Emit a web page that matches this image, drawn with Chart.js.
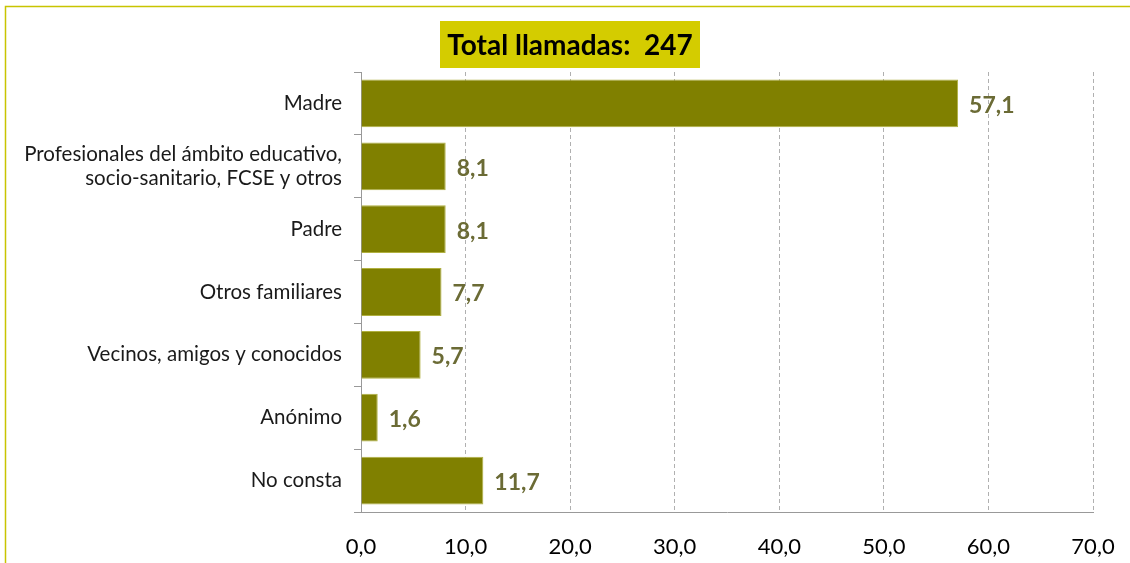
<!DOCTYPE html>
<html>
<head>
<meta charset="utf-8">
<script src="https://cdn.jsdelivr.net/npm/chart.js@4"></script>
<style>
  html, body { margin: 0; padding: 0; background: #fff; }
  #wrap { position: relative; width: 1130px; height: 563px; }
</style>
</head>
<body>
<div id="wrap"><canvas id="chart" width="1130" height="563"></canvas></div>
<script>
const categories = [
    'Madre',
    ['Profesionales del ámbito educativo,', 'socio-sanitario, FCSE y otros'],
    'Padre',
    'Otros familiares',
    'Vecinos, amigos y conocidos',
    'Anónimo',
    'No consta'
];
const percentages = [57.1, 8.1, 8.1, 7.7, 5.7, 1.6, 11.7];
const titleText = 'Total llamadas:  247';

// marco exterior y cuadro del título
const framePlugin = {
    id: 'frame',
    beforeDraw(chart) {
        const c = chart.ctx;
        c.save();
        c.strokeStyle = '#c8c400';
        c.lineWidth = 1.5;
        c.beginPath();
        c.moveTo(5.5, 563);
        c.lineTo(5.5, 6.5);
        c.lineTo(1130, 6.5);
        c.stroke();
        c.restore();
    },
    afterDraw(chart) {
        const c = chart.ctx;
        c.save();
        c.fillStyle = '#d4cc00';
        c.fillRect(440, 21, 260, 47);
        c.fillStyle = '#000';
        c.font = 'bold 28px Lato, sans-serif';
        c.textAlign = 'center';
        c.textBaseline = 'middle';
        c.fillText(titleText, 570, 46);
        c.restore();
    }
};

// etiquetas de valor junto a cada barra
const valueLabels = {
    id: 'valueLabels',
    afterDatasetsDraw(chart) {
        const c = chart.ctx;
        const meta = chart.getDatasetMeta(0);
        c.save();
        c.fillStyle = '#6b6b35';
        c.font = 'bold 23px Lato, sans-serif';
        c.textBaseline = 'middle';
        meta.data.forEach((bar, i) => {
            c.fillText(percentages[i].toFixed(1).replace('.', ','), bar.x + 11, bar.y + 2);
        });
        c.restore();
    }
};

const ctx = document.getElementById('chart').getContext('2d');
new Chart(ctx, {
    type: 'bar',
    data: {
        labels: categories,
        datasets: [{
            data: percentages,
            backgroundColor: '#808000',
            borderColor: '#b0b040',
            borderWidth: 1,
            categoryPercentage: 0.76,
            barPercentage: 1
        }]
    },
    options: {
        indexAxis: 'y',
        responsive: false,
        animation: false,
        layout: { padding: { top: 72, right: 37, left: 0, bottom: 0 } },
        plugins: {
            legend: { display: false },
            tooltip: { enabled: false }
        },
        scales: {
            x: {
                min: 0,
                max: 70,
                ticks: {
                    stepSize: 10,
                    color: '#000',
                    font: { family: 'Lato, sans-serif', size: 22 },
                    padding: 22,
                    callback: v => v.toFixed(1).replace('.', ',')
                },
                grid: {
                    color: '#b0b0b0',
                    drawTicks: false
                },
                border: { color: '#999', dash: [4, 3], display: true },
                afterFit(scale) {
                    scale.height = 51;
                    scale.paddingRight = 0;
                }
            },
            y: {
                ticks: {
                    color: '#1a1a1a',
                    font: { family: 'Lato, sans-serif', size: 20.5 },
                    padding: 12
                },
                grid: {
                    offset: true,
                    drawOnChartArea: false,
                    color: '#999',
                    tickLength: 7
                },
                border: { color: '#999' },
                afterFit(scale) { scale.width = 361; }
            }
        }
    },
    plugins: [framePlugin, valueLabels]
});
</script>
</body>
</html>
